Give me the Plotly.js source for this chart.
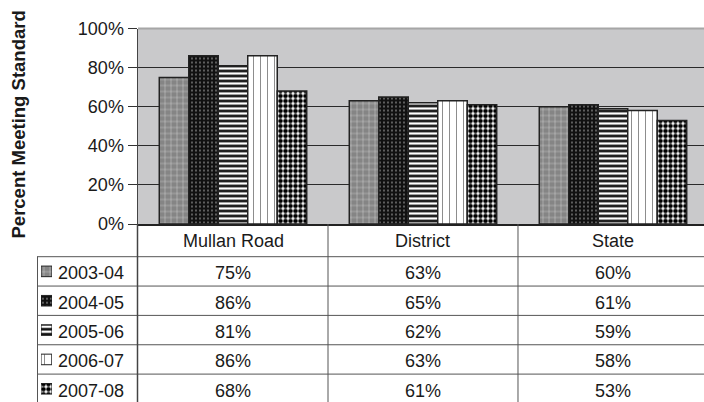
<!DOCTYPE html>
<html><head><meta charset="utf-8">
<script src="https://cdn.plot.ly/plotly-3.0.1.min.js"></script>
<style>html,body{margin:0;padding:0;background:#fff}#chart{width:704px;height:402px}</style>
</head><body><div id="chart"></div>
<script>
// ---- data ----
const categories = ['Mullan Road', 'District', 'State'];
const seriesNames = ['2003-04', '2004-05', '2005-06', '2006-07', '2007-08'];
const v2003_04 = [75, 63, 60];
const v2004_05 = [86, 65, 61];
const v2005_06 = [81, 62, 59];
const v2006_07 = [86, 63, 58];
const v2007_08 = [68, 61, 53];
const seriesValues = [v2003_04, v2004_05, v2005_06, v2006_07, v2007_08];
const yTickSuffix = '%';

// ---- styles ----
const W = 704, H = 402;
const px = p => p / W;           // horizontal pixel -> paper
const py = p => 1 - p / H;       // vertical pixel -> paper
const FONT = 'Liberation Sans, Arial, Helvetica, sans-serif';
const TXT = '#1a1a1a';
const patterns = [
  {shape: '+', bgcolor: '#858585', fgcolor: '#e6e6e6', size: 6, solidity: 0.12},
  {shape: '.', bgcolor: '#111111', fgcolor: '#c8c8c8', size: 4, solidity: 0.12},
  {shape: '-', bgcolor: '#ffffff', fgcolor: '#000000', size: 5, solidity: 0.5},
  {shape: '|', bgcolor: '#ffffff', fgcolor: '#777777', size: 7, solidity: 0.12},
  {shape: '.', bgcolor: '#ffffff', fgcolor: '#000000', size: 5, solidity: 0.65}
];
const outline = {color: '#222222', width: 1.5};

const traces = seriesNames.map((name, i) => ({
  type: 'bar', name: name, x: categories, y: seriesValues[i],
  xaxis: 'x', yaxis: 'y',
  marker: {color: patterns[i].bgcolor, pattern: Object.assign({fillmode: 'replace'}, patterns[i]), line: outline},
  hoverinfo: 'skip'
}));

// legend keys inside the data table (one small bar per series on its own subplot)
seriesNames.forEach((name, i) => traces.push({
  type: 'bar', orientation: 'h', y: [name], x: [1], base: 0,
  xaxis: 'x2', yaxis: 'y2', width: 0.36, offset: -0.18,
  marker: {color: patterns[i].bgcolor, pattern: Object.assign({fillmode: 'replace'}, patterns[i]),
    line: {color: '#222222', width: 1}},
  hoverinfo: 'skip'
}));

const annotations = [];
annotations.push({
  text: 'Percent Meeting Standard', textangle: -90, xref: 'paper', yref: 'paper',
  x: px(18.5), y: py(125), xanchor: 'center', yanchor: 'middle', showarrow: false,
  font: {family: FONT, size: 18.5, weight: 700, color: TXT}
});
categories.forEach(c => annotations.push({
  text: c, xref: 'x', yref: 'paper', x: c, y: py(240.5), xanchor: 'center', yanchor: 'middle', showarrow: false,
  font: {family: FONT, size: 18, color: TXT}
}));
seriesNames.forEach((s, i) => {
  annotations.push({
    text: s, xref: 'paper', yref: 'y2', x: px(55.5), y: s, xanchor: 'left', yanchor: 'middle', yshift: -2,
    showarrow: false, font: {family: FONT, size: 18, color: TXT}
  });
  categories.forEach((c, j) => annotations.push({
    text: seriesValues[i][j] + '%', xref: 'x', yref: 'y2', x: c, y: s, xanchor: 'center', yanchor: 'middle', yshift: -2,
    showarrow: false, font: {family: FONT, size: 18, color: TXT}
  }));
});

const lineCol = '#555555';
const shapes = [];
// gray plot area background (below gridlines)
shapes.push({type: 'rect', xref: 'x domain', yref: 'y domain', x0: 0, x1: 1, y0: 0, y1: 1,
  fillcolor: '#c9c9cb', line: {width: 0}, layer: 'below'});
// top border of plot area
shapes.push({type: 'line', xref: 'paper', yref: 'paper', x0: px(138), x1: 1, y0: py(28.5), y1: py(28.5),
  line: {color: '#a6a6a6', width: 2}});
// table row lines
const rowTop = 256.7, rowH = 29.35;
for (let k = 0; k < 5; k++) {
  const yy = py(rowTop + rowH * k);
  shapes.push({type: 'line', xref: 'paper', yref: 'paper', x0: px(37), x1: 1, y0: yy, y1: yy,
    line: {color: lineCol, width: 1}});
}
// table vertical lines
shapes.push({type: 'line', xref: 'paper', yref: 'paper', x0: px(137.5), x1: px(137.5), y0: 0, y1: py(224),
  line: {color: '#444', width: 1.5}});
shapes.push({type: 'line', xref: 'paper', yref: 'paper', x0: px(37.5), x1: px(37.5), y0: 0, y1: py(rowTop),
  line: {color: lineCol, width: 1}});
[0.5, 1.5].forEach(b => shapes.push({type: 'line', xref: 'x', yref: 'paper', x0: b, x1: b, y0: 0, y1: py(224),
  line: {color: lineCol, width: 1}}));

const layout = {
  width: W, height: H,
  margin: {l: 0, r: 0, t: 0, b: 0},
  paper_bgcolor: '#ffffff', plot_bgcolor: 'rgba(0,0,0,0)',
  font: {family: FONT, size: 18, color: TXT},
  showlegend: false,
  barmode: 'group', bargap: 0.224, bargroupgap: 0,
  xaxis: {domain: [px(138), 1], type: 'category', range: [-0.5, 2.479], showticklabels: false,
    ticks: '', showline: true, linecolor: '#222', linewidth: 1.5, showgrid: false, fixedrange: true},
  yaxis: {domain: [py(224), py(28.5)], range: [0, 100], dtick: 20, ticksuffix: yTickSuffix,
    ticks: 'outside', ticklen: 9, tickcolor: '#333', tickwidth: 1, showline: true, linecolor: '#444',
    linewidth: 1.5, showgrid: true, gridcolor: '#2a2a2a', gridwidth: 1, zeroline: false,
    tickfont: {family: FONT, size: 18, color: TXT}, fixedrange: true},
  xaxis2: {domain: [px(41), px(52)], anchor: 'y2', range: [0, 1], visible: false, fixedrange: true},
  yaxis2: {domain: [0, py(rowTop)], anchor: 'x2', type: 'category', categoryarray: seriesNames,
    categoryorder: 'array', range: [4.45, -0.5], visible: false, fixedrange: true},
  shapes: shapes,
  annotations: annotations
};

Plotly.newPlot('chart', traces, layout, {displayModeBar: false, staticPlot: true});
</script>
</body></html>
